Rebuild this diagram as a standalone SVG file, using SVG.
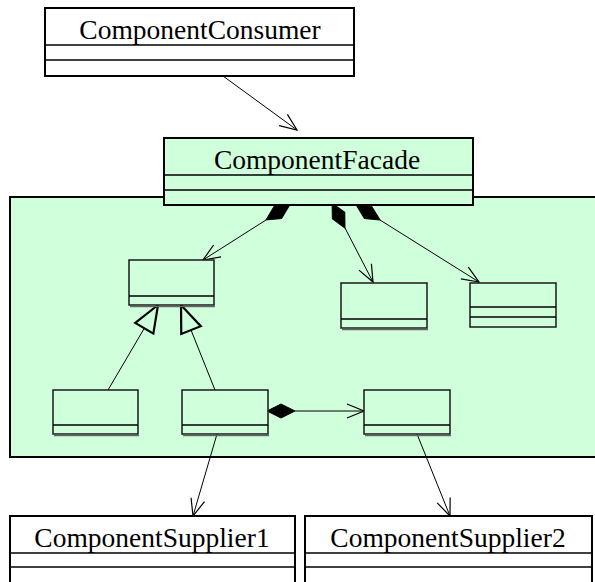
<svg xmlns="http://www.w3.org/2000/svg" width="595" height="582" viewBox="0 0 595 582">
<style>
.box{fill:#fff;stroke:#000;stroke-width:2}
.gbox{fill:#D0FFDC;stroke:#000;stroke-width:2}
.ibox{fill:#D0FFDC;stroke:#1a1a1a;stroke-width:1.5}
.sep{stroke:#000;stroke-width:1.5}
.shadow{stroke:#666;stroke-width:1.5}
.lbl{font-family:"Liberation Serif","Times New Roman",serif;font-size:27.5px;fill:#000;text-anchor:middle}
.edge{fill:none;stroke:#000;stroke-width:1}
</style>
<defs>
<marker id="open" markerUnits="userSpaceOnUse" markerWidth="20" markerHeight="18" refX="17" refY="8" orient="auto" overflow="visible">
<path d="M0,1 L17,8 L0,15" fill="none" stroke="#000" stroke-width="1.2"/>
</marker>
<marker id="diamond" markerUnits="userSpaceOnUse" markerWidth="30" markerHeight="16" refX="0" refY="7" orient="auto-start-reverse" overflow="visible">
<path d="M0,7 L14,0 L28,7 L14,14 Z" fill="#000" stroke="#000" stroke-width="1"/>
</marker>
<marker id="tri" markerUnits="userSpaceOnUse" markerWidth="30" markerHeight="24" refX="27" refY="10.5" orient="auto" overflow="visible">
<path d="M0,0 L27,10.5 L0,21 Z" fill="#D0FFDC" stroke="#000" stroke-width="2.2" stroke-linejoin="miter"/>
</marker>
</defs>
<rect id="package" x="10" y="197" width="600" height="260" fill="#D0FFDC" stroke="#000" stroke-width="2"/>
<g id="connectors">
<line class="edge" x1="223" y1="76" x2="297" y2="130" marker-end="url(#open)"/>
<line class="edge" x1="266" y1="220" x2="203" y2="260" marker-start="url(#diamond)" marker-end="url(#open)"/>
<line class="edge" x1="345" y1="228" x2="373" y2="282" marker-start="url(#diamond)" marker-end="url(#open)"/>
<line class="edge" x1="380" y1="220" x2="479" y2="282" marker-start="url(#diamond)" marker-end="url(#open)"/>
<line class="edge" x1="108" y1="390" x2="158" y2="305" marker-end="url(#tri)"/>
<line class="edge" x1="215" y1="390" x2="181" y2="305" marker-end="url(#tri)"/>
<line class="edge" x1="295" y1="411" x2="364" y2="411" marker-start="url(#diamond)" marker-end="url(#open)"/>
<line class="edge" x1="217" y1="434" x2="193" y2="516" marker-end="url(#open)"/>
<line class="edge" x1="417" y1="434" x2="450" y2="516" marker-end="url(#open)"/>
</g>
<g id="ComponentConsumer">
<rect class="box" x="45" y="8" width="309" height="68"/>
<line class="sep" x1="45" y1="45" x2="354" y2="45"/>
<line class="sep" x1="45" y1="60" x2="354" y2="60"/>
<text class="lbl" x="200" y="39">ComponentConsumer</text>
</g>
<g id="ComponentFacade">
<rect class="gbox" x="164" y="138" width="309" height="67"/>
<line class="sep" x1="164" y1="175" x2="473" y2="175"/>
<line class="sep" x1="164" y1="190" x2="473" y2="190"/>
<text class="lbl" x="317" y="169">ComponentFacade</text>
</g>
<g id="classA">
<rect class="ibox" x="129" y="260" width="85" height="45"/>
<line class="sep" x1="129" y1="296" x2="214" y2="296"/>
<line class="shadow" x1="130" y1="306.5" x2="215" y2="306.5"/>
</g>
<g id="classE">
<rect class="ibox" x="341" y="283" width="86" height="45"/>
<line class="sep" x1="341" y1="319" x2="427" y2="319"/>
<line class="shadow" x1="342" y1="329.5" x2="428" y2="329.5"/>
</g>
<g id="classF">
<rect class="ibox" x="470" y="283" width="86" height="44"/>
<line class="sep" x1="470" y1="307" x2="556" y2="307"/>
<line class="sep" x1="470" y1="317" x2="556" y2="317"/>
</g>
<g id="classB">
<rect class="ibox" x="53" y="390" width="85" height="44"/>
<line class="sep" x1="53" y1="425" x2="138" y2="425"/>
<line class="shadow" x1="54" y1="435.5" x2="139" y2="435.5"/>
</g>
<g id="classC">
<rect class="ibox" x="182" y="390" width="86" height="44"/>
<line class="sep" x1="182" y1="425" x2="268" y2="425"/>
<line class="shadow" x1="183" y1="435.5" x2="269" y2="435.5"/>
</g>
<g id="classD">
<rect class="ibox" x="364" y="390" width="86" height="44"/>
<line class="sep" x1="364" y1="425" x2="450" y2="425"/>
<line class="shadow" x1="365" y1="435.5" x2="451" y2="435.5"/>
</g>
<g id="ComponentSupplier1">
<rect class="box" x="10" y="516" width="285" height="80"/>
<line class="sep" x1="10" y1="553" x2="295" y2="553"/>
<line class="sep" x1="10" y1="567" x2="295" y2="567"/>
<text class="lbl" x="152" y="547">ComponentSupplier1</text>
</g>
<g id="ComponentSupplier2">
<rect class="box" x="305" y="516" width="287" height="80"/>
<line class="sep" x1="305" y1="553" x2="592" y2="553"/>
<line class="sep" x1="305" y1="567" x2="592" y2="567"/>
<text class="lbl" x="448" y="547">ComponentSupplier2</text>
</g>
</svg>
